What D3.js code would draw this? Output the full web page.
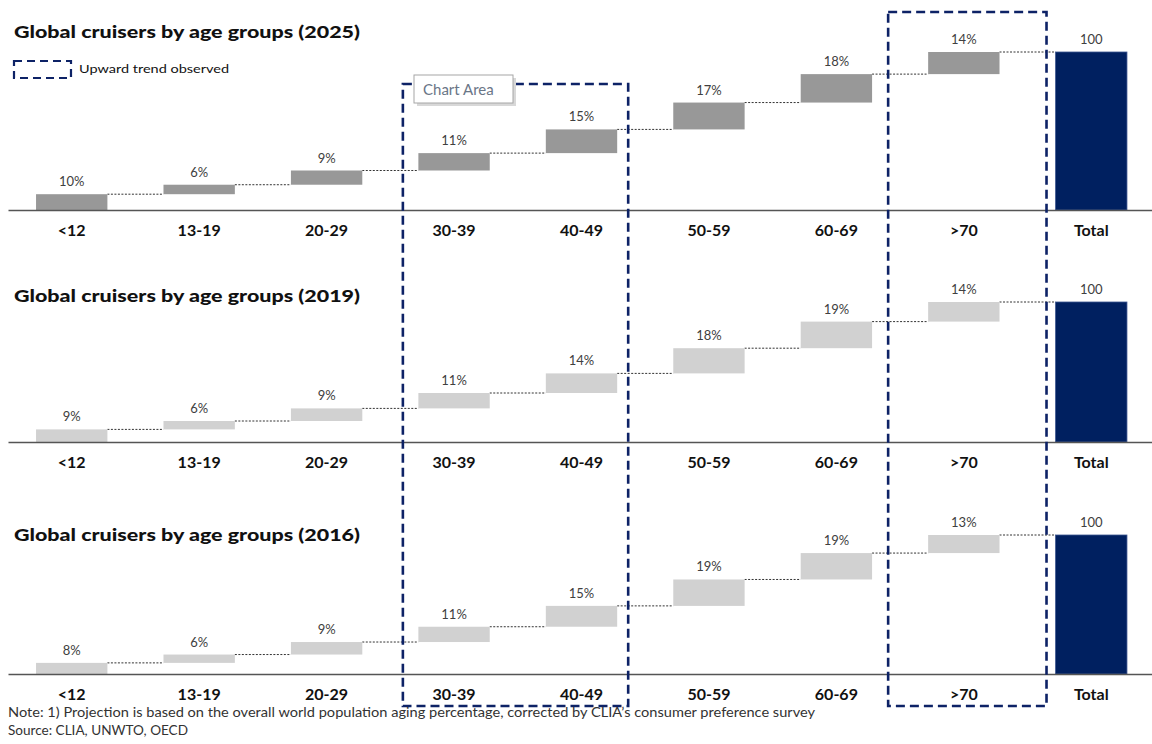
<!DOCTYPE html>
<html>
<head>
<meta charset="utf-8">
<script src="https://cdn.jsdelivr.net/npm/d3@7"></script>
<style>
  body { margin: 0; background: #fff; }
  svg { display: block; font-family: Lato, "Open Sans", sans-serif; }
</style>
</head>
<body>
<svg id="chart" width="1152" height="744"></svg>
<script>
// age groups and the shares per survey year (percent)
const categories = ["<12", "13-19", "20-29", "30-39", "40-49", "50-59", "60-69", ">70"];
const totalLabel = "Total";
const values2025 = [10, 6, 9, 11, 15, 17, 18, 14];
const values2019 = [9, 6, 9, 11, 14, 18, 19, 14];
const values2016 = [8, 6, 9, 11, 15, 19, 19, 13];
const totalValue = 100;
const years = ["2025", "2019", "2016"];

const panels = [
    { year: years[0], values: values2025, color: "#989898", base: 210, top: 52, titleY: 38 },
    { year: years[1], values: values2019, color: "#d1d1d1", base: 442, top: 302, titleY: 302 },
    { year: years[2], values: values2016, color: "#d1d1d1", base: 674, top: 535, titleY: 541 }
];

const svg = d3.select("#chart");

const x = d3.scaleBand()
    .domain([...categories, totalLabel])
    .range([8, 1155])
    .paddingInner(0.44)
    .paddingOuter(0.22);

panels.forEach(p => {
    const y = d3.scaleLinear().domain([0, totalValue]).range([p.base, p.top]);
    const g = svg.append("g").attr("class", "panel");

    // running totals for the waterfall
    let acc = 0;
    const steps = p.values.map((v, i) => {
        const d = { cat: categories[i], v: v, start: acc, end: acc + v };
        acc += v;
        return d;
    });

    g.append("text")
        .attr("x", 14)
        .attr("y", p.titleY)
        .attr("textLength", 346)
        .attr("lengthAdjust", "spacingAndGlyphs")
        .style("font-size", "17.5px")
        .style("font-weight", "900")
        .style("fill", "#111")
        .text(`Global cruisers by age groups (${p.year})`);

    // connectors
    const nextLeft = i => i + 1 < categories.length ? x(categories[i + 1]) : x(totalLabel);
    g.selectAll("line.conn").data(steps).enter().append("line")
        .attr("class", "conn")
        .attr("x1", d => x(d.cat) + x.bandwidth())
        .attr("x2", (d, i) => nextLeft(i))
        .attr("y1", d => y(d.end))
        .attr("y2", d => y(d.end))
        .attr("stroke", "#333")
        .attr("stroke-width", 1)
        .attr("stroke-dasharray", "2,1.5");

    g.selectAll("rect.step").data(steps).enter().append("rect")
        .attr("class", "step")
        .attr("x", d => x(d.cat))
        .attr("width", x.bandwidth())
        .attr("y", d => y(d.end))
        .attr("height", d => y(d.start) - y(d.end))
        .attr("fill", p.color);

    g.append("rect")
        .attr("x", x(totalLabel))
        .attr("width", x.bandwidth())
        .attr("y", y(totalValue))
        .attr("height", y(0) - y(totalValue))
        .attr("fill", "#002060")
        .attr("stroke", "#3b5590")
        .attr("stroke-width", 0.8);

    g.selectAll("text.val").data(steps).enter().append("text")
        .attr("class", "val")
        .attr("x", d => x(d.cat) + x.bandwidth() / 2)
        .attr("y", d => y(d.end) - 8)
        .attr("text-anchor", "middle")
        .style("font-size", "13px")
        .style("fill", "#404040")
        .text(d => d.v + "%");

    g.append("text")
        .attr("x", x(totalLabel) + x.bandwidth() / 2)
        .attr("y", y(totalValue) - 8)
        .attr("text-anchor", "middle")
        .style("font-size", "13px")
        .style("fill", "#404040")
        .text(totalValue);

    const axis = g.append("g")
        .attr("transform", `translate(0,${p.base})`)
        .call(d3.axisBottom(x).tickSize(0).tickSizeOuter(0).tickPadding(15));
    axis.select(".domain").attr("stroke", "#555").attr("stroke-width", 1.6);
    axis.selectAll(".tick text")
        .style("font-family", "Lato, sans-serif")
        .style("font-size", "16px")
        .style("font-weight", "bold")
        .style("fill", "#111");
});

// "upward trend" annotation boxes
const boxes = [
    { from: "30-39", to: "40-49", left: -15.5, right: 11, top: 84, bottom: 706 },
    { from: ">70", to: ">70", left: -40, right: 47, top: 12, bottom: 706 }
];
svg.selectAll("rect.trend").data(boxes).enter().append("rect")
    .attr("class", "trend")
    .attr("x", d => x(d.from) + d.left)
    .attr("y", d => d.top)
    .attr("width", d => x(d.to) + x.bandwidth() + d.right - x(d.from) - d.left)
    .attr("height", d => d.bottom - d.top)
    .attr("fill", "none")
    .attr("stroke", "#0d2266")
    .attr("stroke-width", 2.6)
    .attr("stroke-dasharray", "9,5");

// legend
svg.append("rect")
    .attr("x", 14).attr("y", 61).attr("width", 57).attr("height", 17)
    .attr("fill", "none")
    .attr("stroke", "#0d2266")
    .attr("stroke-width", 2.2)
    .attr("stroke-dasharray", "8,5");
svg.append("text")
    .attr("x", 79).attr("y", 73)
    .attr("textLength", 150)
    .attr("lengthAdjust", "spacingAndGlyphs")
    .style("font-size", "12px")
    .style("fill", "#111")
    .text("Upward trend observed");

// "Chart Area" tooltip
const tip = svg.append("g").attr("transform", "translate(414,75)");
tip.append("rect").attr("x", 3).attr("y", 3).attr("width", 99).attr("height", 28).attr("fill", "#d8d8d8");
tip.append("rect").attr("width", 99).attr("height", 28)
    .attr("fill", "#fff").attr("stroke", "#a6a6a6").attr("stroke-width", 1);
tip.append("text").attr("x", 9).attr("y", 20)
    .style("font-size", "15px").style("fill", "#6a7687")
    .text("Chart Area");

// notes
svg.append("text")
    .attr("x", 8).attr("y", 717)
    .attr("textLength", 807)
    .attr("lengthAdjust", "spacingAndGlyphs")
    .style("font-size", "12.5px")
    .style("fill", "#333")
    .text("Note: 1) Projection is based on the overall world population aging percentage, corrected by CLIA\u2019s consumer preference survey");
svg.append("text")
    .attr("x", 8).attr("y", 735)
    .attr("textLength", 180)
    .attr("lengthAdjust", "spacingAndGlyphs")
    .style("font-size", "12.5px")
    .style("fill", "#333")
    .text("Source: CLIA, UNWTO, OECD");
</script>
</body>
</html>
